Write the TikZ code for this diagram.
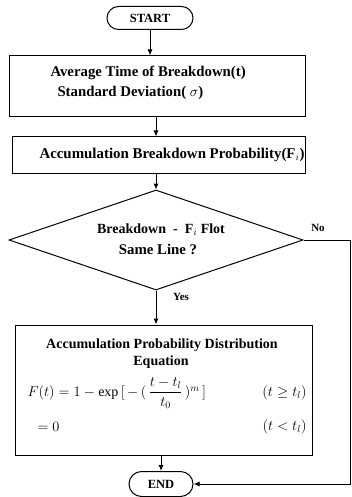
\documentclass[tikz,border=0pt]{standalone}
\usepackage{amsmath}
\usepackage{fontspec}
\setmainfont{Liberation Serif}
\usetikzlibrary{shapes.geometric,shapes.misc,arrows.meta}
\begin{document}
\begin{tikzpicture}[x=1pt,y=-1pt,line width=1pt,
  term/.style={draw,rounded rectangle,inner sep=0pt,font=\fontsize{12.5}{14}\selectfont\bfseries},
  boxx/.style={draw,rectangle,inner sep=0pt},
  txt/.style={inner sep=0pt,font=\fontsize{14}{16}\selectfont\bfseries},
  txtbig/.style={inner sep=0pt,font=\fontsize{14.8}{17}\selectfont\bfseries},
  txtwide/.style={inner sep=0pt,font=\fontsize{14.9}{17}\selectfont\bfseries},
  lab/.style={inner sep=0pt,font=\fontsize{11}{13}\selectfont\bfseries},
  arr/.style={-{Latex[length=6pt,width=5pt]}}]
\useasboundingbox (0,0) rectangle (352,497);
% terminals
\node[term,minimum width=86pt,minimum height=23pt] (start) at (150,18) {START};
\node[term,minimum width=64pt,minimum height=25pt] (endn) at (161,484) {END};
% box 1
\node[boxx,minimum width=296pt,minimum height=61pt] (b1) at (157,86.5) {};
\node[txtbig,anchor=west] (b1a) at (50,73) {Average Time of Breakdown(t)};
\node[txtbig,anchor=west] (b1b) at (57,93) {Standard Deviation( $\sigma$)};
% box 2
\node[boxx,minimum width=293pt,minimum height=36pt] (b2) at (158.5,155) {};
\node[txtwide,anchor=west] (b2a) at (39,155) {Accumulation Breakdown Probability(F$_i$)};
% decision
\node[draw,diamond,inner sep=0pt,minimum width=294pt,minimum height=100pt] (dec) at (156,240) {};
\node[txt] (da) at (161,230) {Breakdown \ - \ F$_i$ Flot};
\node[txt,font=\fontsize{14.8}{17}\selectfont\bfseries] (db) at (158,249) {Same Line ?};
\node[lab] (no) at (318,228) {No};
\node[lab] (yes) at (181,297) {Yes};
% box 3
\node[boxx,minimum width=297pt,minimum height=130pt] (b3) at (163.5,390) {};
\node[txt] (b3a) at (162,345) {Accumulation Probability Distribution};
\node[txt] (b3b) at (161,362) {Equation};
\node[txt,anchor=west] (b3c) at (27,393) {$F(t)=1-\exp\,[\,-\,(\,\dfrac{t-t_l}{t_0}\,)^m\,]$};
\node[txtbig,anchor=east] (b3d) at (307,393) {$(t\geq t_l)$};
\node[txtbig,anchor=west] (b3e) at (37,427) {$=0$};
\node[txtbig,anchor=east] (b3f) at (307,427) {$(t<t_l)$};
% connectors
\coordinate (nr) at (350,240);
\draw[arr] (start.south) -- (start.south |- b1.north);
\draw[arr] (b1.south -| dec.north) -- (dec.north |- b2.north);
\draw[arr] (b2.south -| dec.north) -- (dec.north);
\draw[arr] (dec.south) -- (dec.south |- b3.north);
\draw[arr] (b3.south -| endn.north) -- (endn.north);
\draw[arr] (dec.east) -- (nr) |- (endn.east);
\end{tikzpicture}
\end{document}
